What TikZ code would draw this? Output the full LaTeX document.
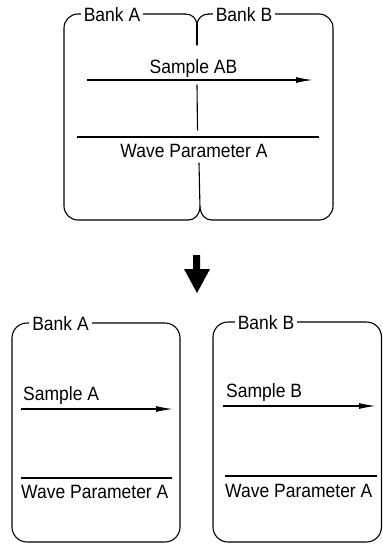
\documentclass[tikz,border=0pt]{standalone}
\usepackage{fontspec}
\setmainfont{Liberation Sans}
\usetikzlibrary{arrows.meta}
\begin{document}
\begin{tikzpicture}[x=1pt,y=-1pt,
  frame/.style={line width=1.1pt, line cap=round},
  lbl/.style={font=\fontsize{17.5}{20}\selectfont, inner sep=0pt, anchor=base, yscale=1.1},
  banklbl/.style={font=\fontsize{17.5}{20}\selectfont, fill=white, inner xsep=3pt, inner ysep=1pt, yscale=1.1},
  flow/.style={line width=1.3pt, -{Latex[length=17pt,width=6pt]}},
  rule/.style={line width=1.3pt}]
\useasboundingbox (0,0) rectangle (383,544);
% ---------- top combined bank ----------
\draw[frame, rounded corners=14pt] (185,14) -- (64,14) -- (64,220) -- (188,220);
\draw[frame] (188,220) .. controls (195,220) and (199,215) .. (200,208)
             .. controls (201,215) and (205,220) .. (212,220);
\draw[frame, rounded corners=14pt] (212,220) -- (333,220) -- (333,14) -- (209,14);
\draw[frame] (209,14) .. controls (202,14) and (198,18) .. (197,24)
             .. controls (196,18) and (192,14) .. (185,14);
\draw[frame] (197,24) -- (197,45);
\draw[frame] (197,85) -- (197.5,130);
\draw[frame] (199,163) -- (200,208);
\node[banklbl] (tA) at (112,15) {Bank A};
\node[banklbl] (tB) at (244,15) {Bank B};
\coordinate (tas) at (87,80);
\coordinate (tae) at (313,80);
\draw[flow] (tas) -- (tae);
\node[lbl] (tsab) at (193.5,73) {Sample AB};
\coordinate (tls) at (77,137);
\coordinate (tle) at (319,137);
\draw[rule] (tls) -- (tle);
\node[lbl] (twpa) at (194,157) {Wave Parameter A};
% ---------- down arrow ----------
\fill (193,255) -- (200,255) -- (200,269) -- (210,269) -- (197,293) -- (184,269) -- (193,269) -- cycle;
% ---------- bottom left bank ----------
\draw[frame, rounded corners=15pt] (12,323) rectangle (180,542);
\node[banklbl] (lA) at (60.5,324) {Bank A};
\node[lbl, anchor=base west] (lsa) at (23,400) {Sample A};
\coordinate (las) at (21,409);
\coordinate (lae) at (173,409);
\draw[flow] (las) -- (lae);
\coordinate (lls) at (21,478);
\coordinate (lle) at (172,478);
\draw[rule] (lls) -- (lle);
\node[lbl, anchor=base west] (lwpa) at (21,498) {Wave Parameter A};
% ---------- bottom right bank ----------
\draw[frame, rounded corners=15pt] (213,322) rectangle (381.5,542);
\node[banklbl] (rB) at (266,323) {Bank B};
\node[lbl, anchor=base west] (rsb) at (226,397) {Sample B};
\coordinate (ras) at (223,406);
\coordinate (rae) at (376,406);
\draw[flow] (ras) -- (rae);
\coordinate (rls) at (225,476);
\coordinate (rle) at (377,476);
\draw[rule] (rls) -- (rle);
\node[lbl, anchor=base west] (rwpa) at (225,497) {Wave Parameter A};
\end{tikzpicture}
\end{document}
